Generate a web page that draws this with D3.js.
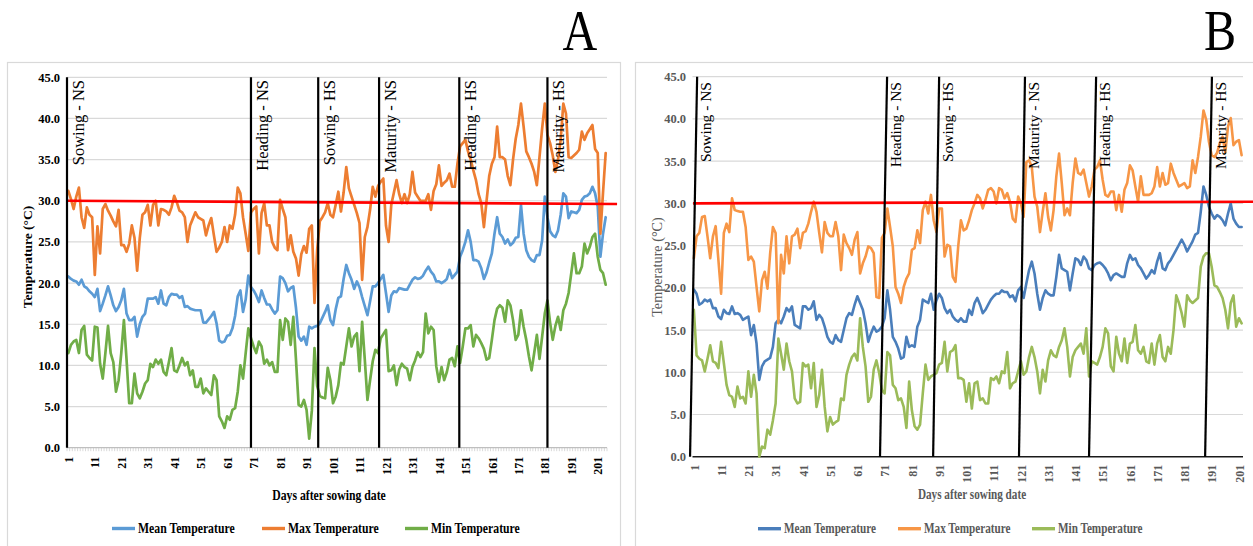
<!DOCTYPE html>
<html>
<head>
<meta charset="utf-8">
<script src="https://cdn.jsdelivr.net/npm/d3@7"></script>
<style>
  html, body { margin: 0; padding: 0; background: #fff; }
  svg { display: block; }
</style>
</head>
<body>
<svg id="chart" width="1253" height="546"></svg>
<script>
// ---------- data ----------
const seriesNames = ["Mean Temperature", "Max Temperature", "Min Temperature"];
const stageNames = ["Sowing - NS", "Heading - NS", "Sowing - HS", "Maturity - NS", "Heading - HS", "Maturity - HS"];
const yTicks = [0, 5, 10, 15, 20, 25, 30, 35, 40, 45];
const tickDays = [1, 11, 21, 31, 41, 51, 61, 71, 81, 91, 101, 111, 121, 131, 141, 151, 161, 171, 181, 191, 201];

// Panel A: daily temperatures (°C)
const meanA = [20.8,20.5,20.3,20.2,19.8,20.4,19.6,19.4,19.0,18.7,
  18.3,19.3,16.6,17.5,18.5,19.6,18.5,17.3,16.6,17.1,
  17.9,19.3,16.3,15.5,15.5,15.9,13.5,15.0,15.9,16.3,
  18.1,18.1,18.1,18.3,17.5,19.1,17.5,17.3,18.3,18.7,
  18.6,18.6,18.2,18.4,17.1,17.2,16.9,16.8,16.7,16.7,
  16.7,15.2,15.2,15.6,16.0,16.5,15.1,13.0,12.8,12.9,
  13.6,13.7,14.5,16.0,18.4,19.1,16.5,18.0,20.9,19.5,
  19.1,18.5,17.7,19.1,18.2,17.4,17.4,16.8,16.3,16.7,
  20.8,20.6,20.0,19.0,19.4,19.6,17.0,13.5,13.0,13.5,
  12.5,14.7,14.5,14.7,14.8,15.1,15.8,16.5,17.3,15.5,
  14.9,16.8,18.2,18.4,20.5,22.2,21.2,20.4,19.3,20.2,
  19.5,18.3,17.2,16.1,17.8,19.6,19.6,20.0,20.5,21.0,
  18.8,16.5,18.5,19.0,18.9,19.4,19.3,19.2,19.2,19.8,
  20.4,20.7,20.5,20.6,20.9,21.5,22.0,21.4,21.0,20.2,
  20.2,20.0,20.2,20.5,21.6,20.6,21.0,21.4,23.2,24.0,
  25.0,26.4,25.0,22.8,22.8,22.6,21.8,20.5,21.3,22.5,
  23.6,26.0,28.0,26.0,25.6,24.8,25.3,24.6,24.9,25.5,
  25.6,29.5,26.0,24.0,23.2,22.8,22.6,23.4,23.4,25.2,
  30.5,28.0,26.3,25.8,25.6,26.4,28.3,30.9,30.5,27.9,
  28.7,28.6,28.5,28.9,30.1,30.5,30.6,30.9,31.7,30.9,
  29.3,23.2,26.0,28.0];
const maxA = [31.2,30.2,29.0,30.5,31.6,28.0,26.7,29.2,28.3,28.0,
  21.0,26.9,23.6,29.0,29.6,28.8,28.2,27.5,26.9,28.9,
  24.6,24.6,23.8,24.8,27.0,25.5,21.5,25.5,28.3,28.6,
  29.5,27.0,29.5,30.0,27.0,29.0,28.9,28.7,28.3,29.2,
  30.6,29.8,28.8,28.6,28.0,25.0,27.0,27.8,28.6,28.0,
  27.8,27.6,25.8,27.0,27.9,25.8,23.8,24.3,25.0,26.8,
  25.0,27.0,26.6,28.3,31.6,30.9,28.0,26.0,23.9,28.6,
  29.0,29.3,23.6,28.5,29.7,27.0,27.0,25.0,24.3,24.0,
  30.1,29.0,28.0,24.0,25.8,23.8,23.0,20.9,23.5,24.5,
  23.7,26.6,27.0,17.6,24.0,27.5,28.0,28.6,29.7,28.3,
  28.0,29.5,31.1,28.7,31.0,34.1,31.5,30.5,29.5,28.5,
  27.3,20.4,25.6,26.8,28.9,31.7,30.5,31.8,32.3,32.7,
  27.0,25.0,29.5,31.0,32.5,30.8,29.7,30.8,29.7,30.8,
  33.5,31.0,30.5,30.0,30.0,30.0,30.8,28.9,31.2,32.0,
  34.3,31.8,32.2,32.5,33.3,31.7,31.7,34.5,36.6,37.0,
  37.4,36.0,35.0,33.7,32.5,30.8,29.7,26.8,30.0,33.0,
  34.5,35.3,39.0,35.3,35.3,35.0,33.0,31.9,35.0,37.5,
  39.2,41.8,39.0,36.0,35.3,34.5,33.5,31.9,35.3,38.8,
  41.8,38.0,37.0,35.5,33.5,35.0,37.4,41.8,40.6,35.3,
  35.2,35.5,35.8,36.2,38.4,37.4,38.2,38.7,39.2,36.3,
  35.8,26.0,31.0,35.8];
const minA = [11.5,12.5,12.9,13.1,11.5,14.3,14.8,11.3,10.9,10.6,
  14.7,14.6,10.2,8.4,11.5,14.8,11.5,10.4,6.8,8.2,
  11.5,15.5,10.7,5.4,5.4,9.0,6.6,6.0,6.8,7.8,
  8.2,10.2,9.8,10.7,10.2,10.7,9.2,8.8,10.4,12.1,
  9.4,9.2,10.0,10.9,10.0,10.4,8.8,9.4,7.4,7.4,
  8.4,6.6,7.2,6.8,6.4,8.8,8.2,3.8,3.2,2.4,
  3.8,3.4,4.6,4.8,6.8,10.0,8.4,11.5,14.5,13.3,
  12.3,11.5,12.9,12.3,10.2,10.7,10.0,10.4,9.2,9.2,
  15.5,13.1,15.7,15.3,12.5,15.9,10.7,5.2,5.0,5.8,
  4.6,1.1,4.5,12.1,7.5,6.3,6.1,6.0,9.7,8.2,
  5.4,6.2,7.6,10.3,10.1,12.3,14.5,12.3,13.5,13.9,
  9.3,15.3,10.7,5.8,8.2,10.5,11.9,11.5,13.3,13.8,
  14.3,9.3,9.4,10.0,7.6,9.5,10.2,9.8,9.6,8.2,
  9.8,10.6,11.6,11.0,11.6,16.3,13.9,14.7,14.3,9.9,
  8.0,9.8,8.2,9.2,10.7,10.9,9.9,12.3,10.3,12.3,
  14.5,14.5,14.9,12.3,13.7,13.3,12.7,12.0,10.7,10.9,
  13.1,15.5,16.9,17.3,17.0,15.3,17.9,17.3,15.5,13.1,
  13.7,16.7,14.7,13.1,11.1,9.4,11.5,13.7,10.8,13.5,
  16.3,17.9,15.2,13.1,14.8,15.9,14.3,16.7,17.5,18.8,
  21.2,23.6,21.2,21.2,22.0,24.8,23.6,24.4,25.6,26.0,
  23.2,21.6,21.2,19.8];

// Panel B: daily temperatures (°C)
const meanB = [19.8,19.3,18.0,18.2,18.6,18.4,18.6,17.6,17.6,16.6,
  16.3,17.4,17.0,16.9,17.8,16.9,17.0,16.8,16.2,16.4,
  16.6,14.4,15.6,13.4,9.1,10.7,11.3,11.5,11.7,13.0,
  15.8,16.2,15.8,16.6,17.6,17.2,17.8,15.6,15.4,15.2,
  17.8,17.8,17.4,17.6,18.4,16.2,16.8,16.4,15.4,14.2,
  13.6,13.4,14.4,13.8,13.6,15.0,16.4,17.0,16.8,18.0,
  19.0,18.2,17.4,15.8,13.6,14.6,15.4,14.8,15.0,15.4,
  16.4,19.7,17.4,14.2,13.6,12.8,11.6,11.8,14.2,13.0,
  13.2,13.0,15.4,16.2,18.6,18.4,18.2,19.3,17.4,18.5,
  19.3,18.8,17.6,17.0,17.4,16.6,16.2,16.0,16.4,16.0,
  16.0,17.4,16.8,18.2,18.8,18.0,17.0,17.4,18.0,18.6,
  19.0,19.3,19.3,19.7,19.5,19.5,18.9,19.1,18.4,19.7,
  20.1,18.8,20.5,22.1,23.1,21.7,19.3,17.4,18.8,19.7,
  19.3,19.1,19.1,21.3,23.9,22.3,22.1,21.9,19.7,21.7,
  23.5,23.3,22.7,23.7,23.3,22.3,22.1,22.7,22.9,23.0,
  22.7,22.3,21.7,20.9,21.5,21.7,21.5,21.3,21.3,22.9,
  23.9,23.3,23.5,22.7,22.3,21.7,21.1,21.5,22.1,21.7,
  23.1,24.1,22.3,22.1,22.9,23.3,23.9,24.5,25.1,25.7,
  25.1,24.3,24.9,25.5,26.3,26.5,29.0,32.0,31.0,29.6,
  28.8,28.2,28.6,28.4,28.0,27.4,28.8,30.0,28.2,27.6,
  27.2,27.2];
const maxB = [23.5,26.1,26.5,28.4,28.5,26.1,23.5,26.1,27.3,23.3,
  19.3,26.5,27.6,26.6,30.6,29.2,29.1,29.0,29.0,27.2,
  23.3,23.7,23.1,20.1,17.2,20.9,21.9,19.9,24.1,27.2,
  26.5,15.8,23.9,21.7,26.1,22.9,26.1,26.3,27.0,24.7,
  26.5,26.7,27.6,29.0,30.2,29.0,26.5,24.2,27.8,26.5,
  26.1,26.1,27.8,26.1,22.1,26.3,25.3,24.7,23.9,25.7,
  26.6,21.7,22.9,23.7,24.9,24.7,24.1,18.9,18.8,25.9,
  26.5,29.4,27.2,24.9,20.1,19.3,18.2,20.1,21.1,21.7,
  24.5,24.7,26.8,25.3,29.2,30.2,28.8,31.0,28.0,26.6,
  29.4,29.4,23.7,25.1,24.9,21.3,20.7,24.9,28.0,26.8,
  27.0,28.0,29.2,30.0,31.0,30.6,29.4,30.4,31.6,31.8,
  31.4,30.0,31.8,31.6,30.6,31.2,30.2,28.2,27.8,30.8,
  30.0,28.4,34.9,35.1,34.3,30.8,29.6,26.6,29.0,31.2,
  28.4,26.8,29.2,33.2,35.9,32.4,28.6,29.4,28.6,32.4,
  35.3,33.6,33.4,34.0,32.4,30.8,32.0,34.0,34.3,35.1,
  32.8,31.0,30.8,31.4,31.4,29.2,31.0,29.0,31.6,32.4,
  34.5,33.9,32.0,30.2,33.2,31.0,31.0,31.0,31.2,32.0,
  34.3,32.0,33.6,32.2,32.4,34.7,33.6,32.8,32.0,32.2,
  32.4,31.8,32.0,35.1,33.6,35.5,37.9,41.0,39.9,37.3,
  35.7,35.5,36.0,37.1,37.9,36.0,39.1,40.1,36.9,37.3,
  37.5,35.7];
const minB = [17.4,12.0,11.6,11.4,10.1,11.6,13.2,11.3,11.1,10.5,
  13.6,11.1,8.5,7.3,7.1,5.9,8.3,6.9,7.1,6.3,
  10.1,7.1,9.7,7.5,0.0,1.2,1.0,3.2,2.6,4.3,
  6.3,14.0,12.2,10.3,13.4,11.3,10.1,6.9,6.3,6.5,
  11.1,10.7,10.9,8.1,11.1,5.9,7.3,10.3,5.9,3.0,
  4.7,3.8,4.1,4.3,6.9,6.7,9.7,10.9,11.8,12.2,
  11.4,16.4,13.0,10.7,6.5,7.1,10.3,11.4,9.9,7.9,
  7.5,12.4,12.0,8.5,8.1,6.7,6.9,5.9,3.4,8.9,
  5.5,3.6,3.2,3.8,7.5,10.9,9.1,9.5,9.7,9.9,
  10.9,11.1,13.6,10.1,12.4,12.6,13.2,9.3,9.3,9.1,
  6.5,8.7,5.7,8.7,8.9,6.7,6.9,6.3,6.3,9.3,
  9.1,9.5,8.7,10.1,9.9,12.4,8.1,8.7,8.9,10.1,
  11.3,9.7,10.1,11.8,13.0,11.8,10.1,7.5,10.3,8.9,
  11.4,12.6,12.0,11.8,13.0,13.8,15.2,13.0,9.5,11.8,
  12.6,13.0,13.4,12.2,15.2,9.5,11.3,11.1,10.9,11.8,
  13.0,15.2,14.6,10.7,10.1,14.2,12.2,11.3,14.0,11.1,
  13.4,13.6,15.6,12.6,12.2,13.0,11.3,11.1,13.4,10.9,
  13.4,14.4,11.8,11.3,13.0,12.2,15.0,19.1,18.2,17.0,
  15.4,19.1,18.5,18.2,18.5,18.8,22.5,23.7,24.1,24.1,
  22.5,20.3,20.1,19.5,18.8,17.4,15.2,18.2,19.1,15.4,
  16.4,15.8];

// Crop stage markers, as day positions (top and bottom ends of each marker)
const stageTopA = [0.5, 70.0, 95.4, 118.4, 148.7, 182.0];
const stageBottomA = [0.5, 70.0, 95.4, 118.4, 148.7, 182.0];
const stageTopB = [2.2, 71.9, 91.0, 122.5, 148.6, 191.1];
const stageBottomB = [-0.4, 69.3, 88.8, 120.3, 146.0, 188.6];

// 30 °C reference line: [day, °C] at each end
const thresholdA = [[0.5, 30.0], [208.3, 29.6]];
const thresholdB = [[0.7, 30.0], [206.2, 30.2]];

// ---------- drawing ----------
const svg = d3.select("#chart");
const SERIF = "'Liberation Serif', 'Times New Roman', Times, serif";

function drawPanel(cfg) {
  const g = svg.append("g");
  const n = cfg.series[0].values.length;
  const x = d3.scaleLinear().domain([0.5, n + 0.5]).range([cfg.x0, cfg.x1]);
  const y = d3.scaleLinear().domain([0, 45]).range([cfg.yBottom, cfg.yTop]);

  // chart frame
  g.append("rect")
    .attr("x", cfg.frame[0]).attr("y", cfg.frame[1])
    .attr("width", cfg.frame[2]).attr("height", cfg.frame[3])
    .attr("fill", "none").attr("stroke", "#d9d9d9").attr("stroke-width", 1.2);

  // horizontal gridlines
  g.append("g").selectAll("line").data(yTicks.filter(v => v > 0)).join("line")
    .attr("x1", cfg.x0).attr("x2", cfg.x1)
    .attr("y1", d => y(d)).attr("y2", d => y(d))
    .attr("stroke", "#d9d9d9").attr("stroke-width", 1.2);

  // category axis
  if (cfg.minorTicks) {
    g.append("g").selectAll("line").data(d3.range(0.5, n + 1, 1)).join("line")
      .attr("x1", d => x(d)).attr("x2", d => x(d))
      .attr("y1", cfg.yBottom).attr("y2", cfg.yBottom + 3.5)
      .attr("stroke", "#cfcfcf").attr("stroke-width", 0.8);
  }
  g.append("line")
    .attr("x1", cfg.x0).attr("x2", cfg.x1)
    .attr("y1", cfg.yBottom).attr("y2", cfg.yBottom)
    .attr("stroke", cfg.axisColor).attr("stroke-width", cfg.axisWidth);

  // y axis labels
  const yAxis = g.append("g")
    .attr("transform", `translate(${cfg.yLabelX},0)`)
    .call(d3.axisLeft(y).tickValues(yTicks).tickFormat(d3.format(".1f")).tickSize(0).tickPadding(0));
  yAxis.select(".domain").remove();
  yAxis.selectAll("text")
    .attr("font-family", SERIF).attr("font-size", 12.5).attr("font-weight", "bold")
    .attr("fill", cfg.textColor);

  // x axis labels (rotated)
  const xAxis = g.append("g")
    .attr("transform", `translate(0,${cfg.yBottom})`)
    .call(d3.axisBottom(x).tickValues(tickDays).tickFormat(d3.format("d")).tickSize(0));
  xAxis.select(".domain").remove();
  xAxis.selectAll("text")
    .attr("transform", "rotate(-90)")
    .attr("text-anchor", "end")
    .attr("x", -cfg.xLabelGap).attr("y", 0).attr("dy", "0.35em")
    .attr("font-family", SERIF).attr("font-size", 12).attr("font-weight", "bold")
    .attr("fill", cfg.textColor);

  // temperature series
  const line = d3.line().x((d, i) => x(i + 1)).y(d => y(d));
  cfg.series.forEach(s => {
    g.append("path").datum(s.values)
      .attr("d", line)
      .attr("fill", "none").attr("stroke", s.color)
      .attr("stroke-width", cfg.lineWidth)
      .attr("stroke-linejoin", "round").attr("stroke-linecap", "round");
  });

  // 30 °C reference line
  g.append("path").datum(cfg.threshold)
    .attr("d", d3.line().x(d => x(d[0])).y(d => y(d[1])))
    .attr("fill", "none").attr("stroke", "#ff0000").attr("stroke-width", 2.6);

  // crop stage markers and labels
  stageNames.forEach((name, i) => {
    const xt = x(cfg.stageTop[i]);
    const xb = x(cfg.stageBottom[i]);
    g.append("line")
      .attr("x1", xt).attr("y1", y(45))
      .attr("x2", xb).attr("y2", y(0))
      .attr("stroke", "#000").attr("stroke-width", 2.2);
    g.append("text")
      .attr("transform", `translate(${xt + cfg.stageLabelDx},${cfg.stageLabelTop}) rotate(-90)`)
      .attr("text-anchor", "end")
      .attr("font-family", SERIF).attr("font-size", cfg.stageFont)
      .attr("fill", "#000")
      .text(name);
  });

  // axis titles
  g.append("text")
    .attr("transform", `translate(${cfg.yTitle[0]},${cfg.yTitle[1]}) rotate(-90)`)
    .attr("text-anchor", "middle").attr("dy", "0.35em")
    .attr("font-family", SERIF).attr("font-size", cfg.yTitleFont)
    .attr("font-weight", cfg.yTitleWeight).attr("fill", cfg.textColor)
    .text("Temperature (°C)");
  g.append("text")
    .attr("transform", `translate(${cfg.xTitle[0]},${cfg.xTitle[1]}) scale(${cfg.squeeze},1)`)
    .attr("text-anchor", "middle")
    .attr("font-family", SERIF).attr("font-size", cfg.titleFont).attr("font-weight", "bold")
    .attr("fill", cfg.textColor)
    .text("Days after sowing date");

  // legend
  cfg.series.forEach((s, i) => {
    const lx = cfg.legendX[i];
    g.append("line")
      .attr("x1", lx).attr("x2", lx + 23)
      .attr("y1", cfg.legendY).attr("y2", cfg.legendY)
      .attr("stroke", s.color).attr("stroke-width", 3.4);
    g.append("text")
      .attr("transform", `translate(${lx + 26},${cfg.legendY + 4.6}) scale(${cfg.squeeze},1)`)
      .attr("font-family", SERIF).attr("font-size", cfg.titleFont).attr("font-weight", "bold")
      .attr("fill", cfg.textColor)
      .text(s.name);
  });

  // panel letter
  g.append("text")
    .attr("transform", `translate(${cfg.letterPos[0]},${cfg.letterPos[1]}) scale(0.86,1)`)
    .attr("text-anchor", "middle")
    .attr("font-family", SERIF).attr("font-size", 56).attr("fill", "#000")
    .text(cfg.letter);
}

drawPanel({
  letter: "A", letterPos: [580, 50],
  frame: [7.5, 62.5, 613, 520],
  x0: 67, x1: 607, yTop: 77.3, yBottom: 447.7,
  series: [
    { name: seriesNames[0], values: meanA, color: "#5b9bd5" },
    { name: seriesNames[1], values: maxA, color: "#ed7d31" },
    { name: seriesNames[2], values: minA, color: "#70ad47" }
  ],
  lineWidth: 2.7,
  minorTicks: true, axisColor: "#bfbfbf", axisWidth: 1.2,
  textColor: "#000",
  yLabelX: 60, xLabelGap: 9,
  stageTop: stageTopA, stageBottom: stageBottomA,
  stageLabelDx: 17, stageLabelTop: 80, stageFont: 16.5,
  threshold: thresholdA,
  yTitle: [27, 257], yTitleFont: 13.5, yTitleWeight: "bold",
  xTitle: [329, 500], titleFont: 14.5, squeeze: 0.81,
  legendX: [112, 262, 405], legendY: 528.5
});

drawPanel({
  letter: "B", letterPos: [1220, 50],
  frame: [635.5, 62.5, 640, 520],
  x0: 692.5, x1: 1243, yTop: 76.7, yBottom: 456.7,
  series: [
    { name: seriesNames[0], values: meanB, color: "#4a7ebb" },
    { name: seriesNames[1], values: maxB, color: "#f79646" },
    { name: seriesNames[2], values: minB, color: "#9bbb59" }
  ],
  lineWidth: 2.6,
  minorTicks: false, axisColor: "#1a1a1a", axisWidth: 1.6,
  textColor: "#595959",
  yLabelX: 686, xLabelGap: 8,
  stageTop: stageTopB, stageBottom: stageBottomB,
  stageLabelDx: 14, stageLabelTop: 82, stageFont: 15.5,
  threshold: thresholdB,
  yTitle: [657, 267], yTitleFont: 14.2, yTitleWeight: "normal",
  xTitle: [972, 499], titleFont: 14, squeeze: 0.8,
  legendX: [758, 898, 1032], legendY: 528.7
});
</script>
</body>
</html>
